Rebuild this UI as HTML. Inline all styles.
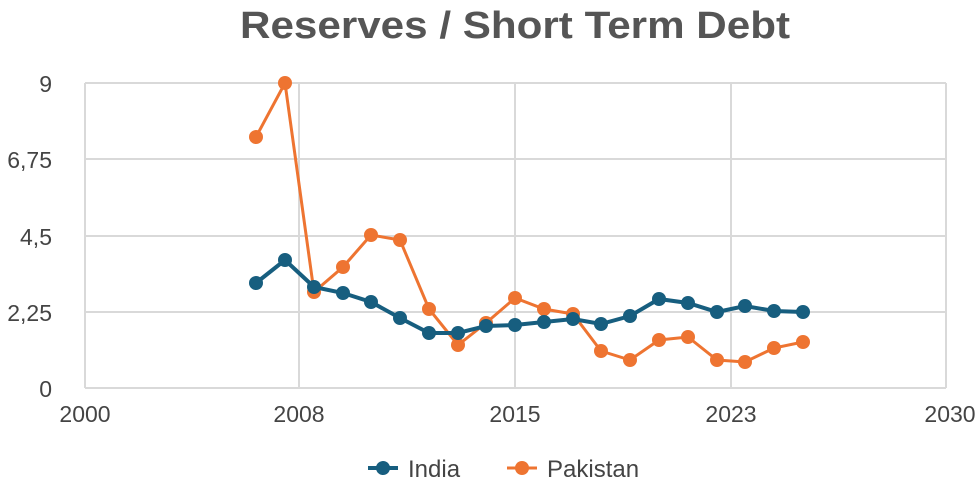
<!DOCTYPE html><html><head><style>body{margin:0;background:#fff}svg{font-family:"Liberation Sans",sans-serif}</style></head><body>
<svg width="980" height="488" xmlns="http://www.w3.org/2000/svg">
<text x="515" y="38" text-anchor="middle" font-size="38" font-weight="bold" fill="#555" textLength="550" lengthAdjust="spacingAndGlyphs">Reserves / Short Term Debt</text>
<g stroke="#d9d9d9" stroke-width="2">
<line x1="85" y1="83" x2="946" y2="83"/><line x1="85" y1="159" x2="946" y2="159"/><line x1="85" y1="236" x2="946" y2="236"/><line x1="85" y1="312" x2="946" y2="312"/><line x1="85" y1="388" x2="946" y2="388"/>
<line x1="85" y1="83" x2="85" y2="388"/><line x1="299" y1="83" x2="299" y2="388"/><line x1="515" y1="83" x2="515" y2="388"/><line x1="731" y1="83" x2="731" y2="388"/><line x1="946" y1="83" x2="946" y2="388"/>
</g>
<g font-size="23" fill="#444" text-anchor="end">
<text x="52" y="92">9</text><text x="52" y="168">6,75</text><text x="52" y="245">4,5</text><text x="52" y="321">2,25</text><text x="52" y="397">0</text></g>
<g font-size="23" fill="#444" text-anchor="middle">
<text x="85" y="422">2000</text><text x="299" y="422">2008</text><text x="515" y="422">2015</text><text x="731" y="422">2023</text><text x="950" y="422">2030</text></g>
<g fill="#ee7431" stroke="#ee7431" stroke-width="3">
<polyline fill="none" points="256,137 285,83 314,292 343,267 371,235 400,240 429,309 458,345 486,323 515,298 544,309 573,314 601,351 630,360 659,340 688,337 717,360 745,362 774,348 803,342"/>
<g stroke="none"><circle cx="256" cy="137" r="7"/><circle cx="285" cy="83" r="7"/><circle cx="314" cy="292" r="7"/><circle cx="343" cy="267" r="7"/><circle cx="371" cy="235" r="7"/><circle cx="400" cy="240" r="7"/><circle cx="429" cy="309" r="7"/><circle cx="458" cy="345" r="7"/><circle cx="486" cy="323" r="7"/><circle cx="515" cy="298" r="7"/><circle cx="544" cy="309" r="7"/><circle cx="573" cy="314" r="7"/><circle cx="601" cy="351" r="7"/><circle cx="630" cy="360" r="7"/><circle cx="659" cy="340" r="7"/><circle cx="688" cy="337" r="7"/><circle cx="717" cy="360" r="7"/><circle cx="745" cy="362" r="7"/><circle cx="774" cy="348" r="7"/><circle cx="803" cy="342" r="7"/></g></g>
<g fill="#175e7f" stroke="#175e7f" stroke-width="4">
<polyline fill="none" points="256,283 285,260 314,287 343,293 371,302 400,318 429,333 458,333 486,326 515,325 544,322 573,319 601,324 630,316 659,299 688,303 717,312 745,306 774,311 803,312"/>
<g stroke="none"><circle cx="256" cy="283" r="7"/><circle cx="285" cy="260" r="7"/><circle cx="314" cy="287" r="7"/><circle cx="343" cy="293" r="7"/><circle cx="371" cy="302" r="7"/><circle cx="400" cy="318" r="7"/><circle cx="429" cy="333" r="7"/><circle cx="458" cy="333" r="7"/><circle cx="486" cy="326" r="7"/><circle cx="515" cy="325" r="7"/><circle cx="544" cy="322" r="7"/><circle cx="573" cy="319" r="7"/><circle cx="601" cy="324" r="7"/><circle cx="630" cy="316" r="7"/><circle cx="659" cy="299" r="7"/><circle cx="688" cy="303" r="7"/><circle cx="717" cy="312" r="7"/><circle cx="745" cy="306" r="7"/><circle cx="774" cy="311" r="7"/><circle cx="803" cy="312" r="7"/></g></g>
<line x1="368" y1="468" x2="398" y2="468" stroke="#175e7f" stroke-width="4"/><circle cx="383" cy="468" r="7" fill="#175e7f"/>
<text x="408" y="477" font-size="24" fill="#444">India</text>
<line x1="507" y1="468" x2="537" y2="468" stroke="#ee7431" stroke-width="3"/><circle cx="522" cy="468" r="7" fill="#ee7431"/>
<text x="547" y="477" font-size="24" fill="#444">Pakistan</text>
</svg></body></html>
